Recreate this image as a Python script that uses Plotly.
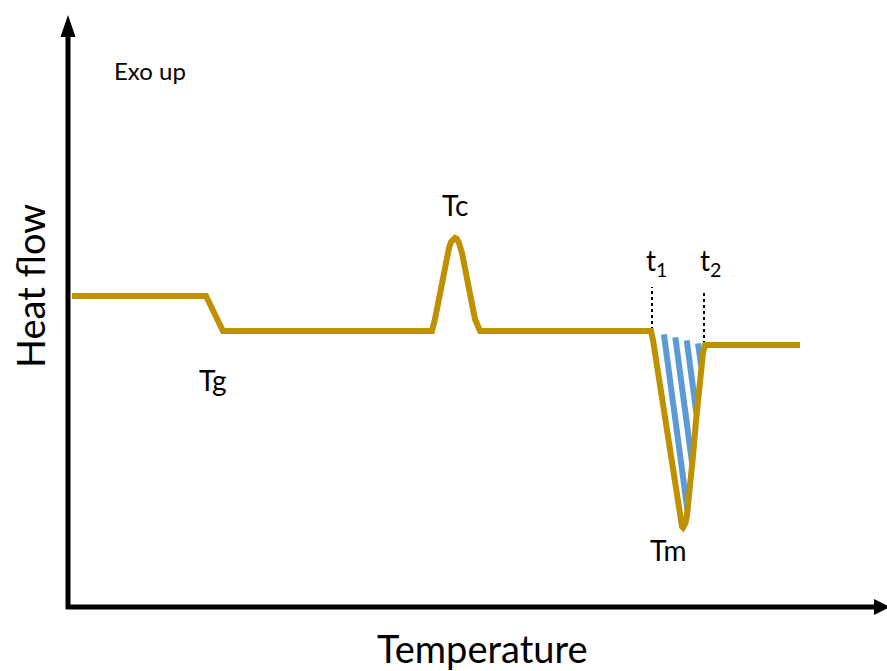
import numpy as np
import plotly.graph_objects as go

# ---- data (schematic DSC curve; temperature / heat flow in arbitrary units) ----
temperature = [72, 206, 223, 432,
               435, 438, 442, 446, 449, 451, 453, 455, 457, 459, 462, 466, 470, 475, 480,
               651,
               653, 658, 663, 668, 673, 676, 678, 679.5, 681, 682, 683, 684, 685.5, 687, 688.5,
               690, 693, 696, 699, 701, 703, 705,
               800]
heat_flow = [375, 375, 340, 340,
             352, 368, 390, 410, 423, 429, 432, 433, 432, 428, 418, 398, 375, 352, 340,
             340,
             331, 298, 264, 231, 198, 177, 163, 153, 147, 144.5, 143.5, 144.5, 148, 156, 168,
             185, 215, 250, 285, 303, 318, 326,
             326]

# melting integration limits
t1_T, t2_T = 652, 704
t1_hf, t2_hf = (341, 384), (327, 381)

labels = {"Tg": (213, 291), "Tc": (455, 466), "Tm": (668, 121),
          "t<sub>1</sub>": (656, 409), "t<sub>2</sub>": (710, 409)}

GOLD = "#BF9000"
BLUE = "#5B9BD5"
FONT = "Lato"

fig = go.Figure()

# ---- hatched melting area (stripes clipped to the peak area) ----
mi = temperature.index(651)
ei = temperature.index(705)
poly_x = np.array(temperature[mi:ei + 1], float)
poly_y = np.array(heat_flow[mi:ei + 1], float)


def inside(x, y):
    c = False
    n = len(poly_x)
    for i in range(n):
        x1, y1 = poly_x[i], poly_y[i]
        x2, y2 = poly_x[(i + 1) % n], poly_y[(i + 1) % n]
        if (y1 > y) != (y2 > y):
            xi = x1 + (y - y1) * (x2 - x1) / (y2 - y1)
            if x < xi:
                c = not c
    return c


d = np.array([23.0, -172.0])
d /= np.linalg.norm(d)
stripe_starts = [664, 675, 686, 697]
for sx in stripe_starts:
    ts = np.linspace(-40, 260, 1500)
    pts = [(sx + t * d[0], 336 + t * d[1]) for t in ts]
    ins = [p for p in pts if inside(*p)]
    if len(ins) < 2:
        continue
    fig.add_trace(go.Scatter(x=[ins[0][0], ins[-1][0]], y=[ins[0][1], ins[-1][1]],
                             mode="lines", line=dict(color=BLUE, width=6),
                             hoverinfo="skip", showlegend=False))

# ---- dotted limit lines ----
for T, hf in ((t1_T, t1_hf), (t2_T, t2_hf)):
    fig.add_trace(go.Scatter(x=[T, T], y=list(hf), mode="lines",
                             line=dict(color="black", width=2, dash="dot"),
                             hoverinfo="skip", showlegend=False))

# ---- DSC curve ----
fig.add_trace(go.Scatter(x=temperature, y=heat_flow, mode="lines",
                         line=dict(color=GOLD, width=6),
                         hoverinfo="skip", showlegend=False))

# ---- axes drawn as arrows ----
shapes = [
    dict(type="line", x0=68, y0=62, x1=68, y1=636, line=dict(color="black", width=5)),
    dict(type="path", path="M 60.5 634 L 68 656 L 75.5 634 Z", fillcolor="black",
         line=dict(color="black", width=0)),
    dict(type="line", x0=66, y0=64, x1=876, y1=64, line=dict(color="black", width=5)),
    dict(type="path", path="M 874 72 L 890 64 L 874 56 Z", fillcolor="black",
         line=dict(color="black", width=0)),
]

annotations = []
for txt, (x, y) in labels.items():
    annotations.append(dict(x=x, y=y, text=txt, showarrow=False,
                            font=dict(family=FONT, size=28, color="black")))
annotations += [
    dict(x=150, y=601, text="Exo up", showarrow=False,
         font=dict(family=FONT, size=24, color="black")),
    dict(x=30, y=385, text="Heat flow", showarrow=False, textangle=-90,
         font=dict(family=FONT, size=38, color="black")),
    dict(x=482, y=23, text="Temperature", showarrow=False,
         font=dict(family=FONT, size=38, color="black")),
]

fig.update_layout(
    width=887, height=671,
    margin=dict(l=0, r=0, t=0, b=0),
    paper_bgcolor="white", plot_bgcolor="white",
    xaxis=dict(range=[0, 887], visible=False, fixedrange=True),
    yaxis=dict(range=[0, 671], visible=False, fixedrange=True),
    shapes=shapes, annotations=annotations,
    showlegend=False,
)

fig.write_html("out.html", config={"displayModeBar": False},
               post_script="document.body.style.margin='0';document.body.style.overflow='hidden';")
